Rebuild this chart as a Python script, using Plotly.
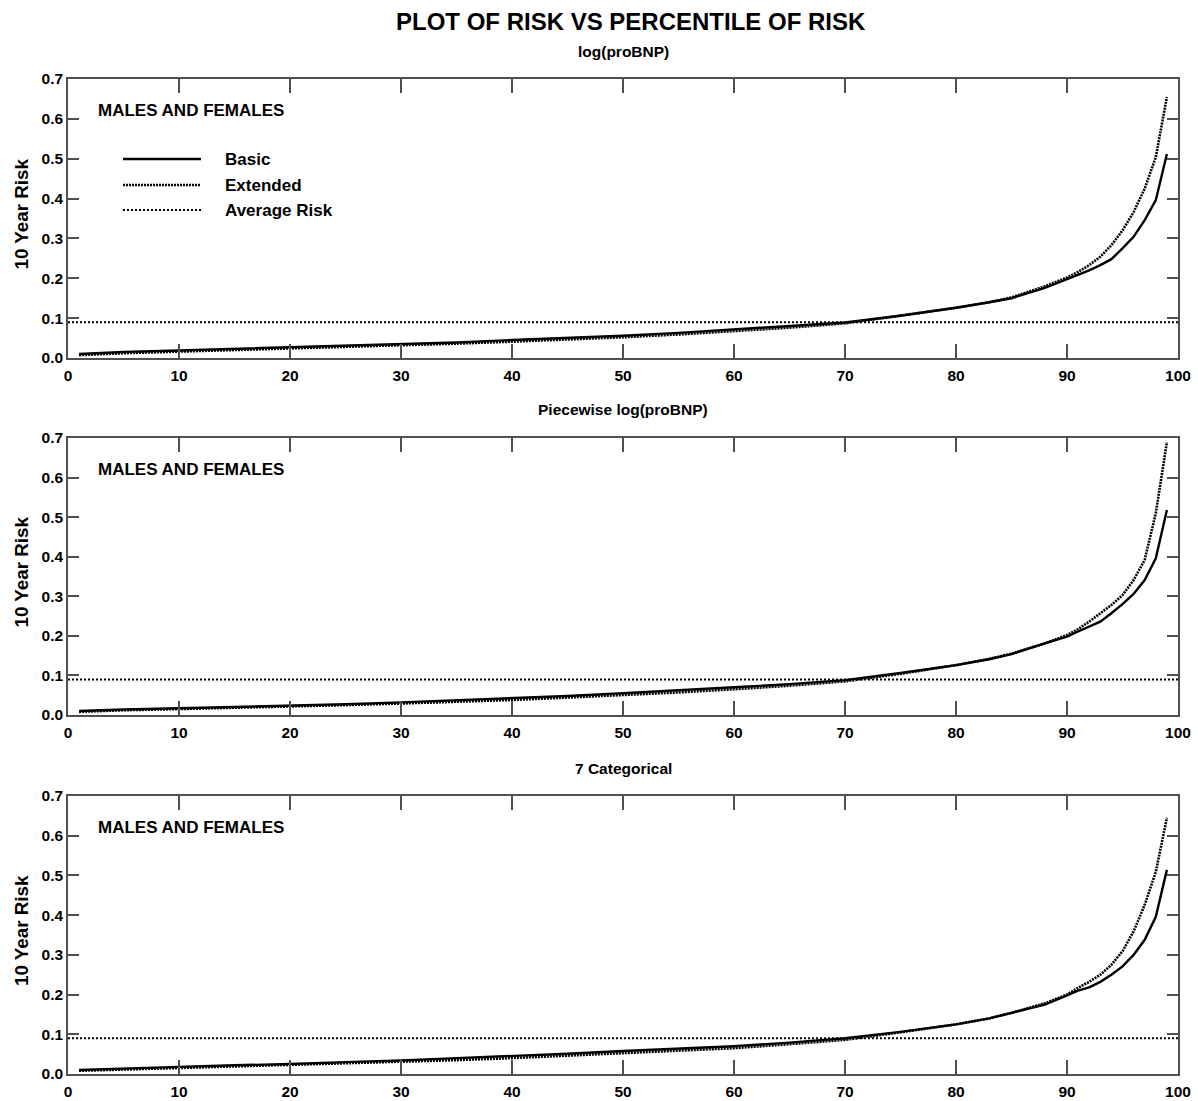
import plotly.graph_objects as go

# ---------------- data ----------------
percentile = [1, 5, 10, 15, 20, 25, 30, 35, 40, 45, 50, 55, 60, 65, 70, 75,
              80, 83, 85, 88, 90, 91, 92, 93, 94, 95, 96, 97, 98, 99]

panel_titles = ["log(proBNP)", "Piecewise log(proBNP)", "7 Categorical"]
subgroup_label = "MALES AND FEMALES"
series_names = ["Basic", "Extended", "Average Risk"]

basic_1 = [0.010, 0.015, 0.019, 0.023, 0.026, 0.030, 0.034, 0.039, 0.045, 0.050,
           0.056, 0.063, 0.072, 0.080, 0.089, 0.106, 0.126, 0.140, 0.150, 0.176,
           0.198, 0.208, 0.220, 0.233, 0.248, 0.275, 0.304, 0.346, 0.396, 0.512]
extended_1 = [0.007, 0.012, 0.016, 0.020, 0.023, 0.027, 0.031, 0.036, 0.041, 0.046,
              0.052, 0.059, 0.067, 0.076, 0.087, 0.106, 0.126, 0.140, 0.152, 0.180,
              0.202, 0.216, 0.233, 0.254, 0.283, 0.320, 0.366, 0.425, 0.504, 0.655]

basic_2 = [0.010, 0.014, 0.017, 0.020, 0.023, 0.027, 0.032, 0.037, 0.042, 0.048,
           0.055, 0.062, 0.070, 0.078, 0.088, 0.106, 0.126, 0.141, 0.154, 0.181,
           0.198, 0.211, 0.223, 0.236, 0.257, 0.280, 0.306, 0.341, 0.396, 0.518]
extended_2 = [0.008, 0.012, 0.015, 0.018, 0.021, 0.025, 0.029, 0.033, 0.038, 0.044,
              0.050, 0.057, 0.065, 0.074, 0.085, 0.104, 0.126, 0.142, 0.155, 0.181,
              0.202, 0.217, 0.236, 0.257, 0.278, 0.303, 0.341, 0.392, 0.510, 0.690]

basic_3 = [0.010, 0.014, 0.018, 0.022, 0.025, 0.030, 0.034, 0.040, 0.045, 0.051,
           0.058, 0.064, 0.070, 0.079, 0.090, 0.106, 0.125, 0.140, 0.154, 0.175,
           0.198, 0.210, 0.218, 0.232, 0.250, 0.271, 0.300, 0.338, 0.396, 0.514]
extended_3 = [0.008, 0.011, 0.015, 0.019, 0.022, 0.026, 0.030, 0.035, 0.040, 0.046,
              0.052, 0.058, 0.065, 0.075, 0.086, 0.105, 0.125, 0.140, 0.154, 0.178,
              0.200, 0.217, 0.232, 0.250, 0.275, 0.309, 0.359, 0.426, 0.509, 0.645]

average_risk = [0.090, 0.090, 0.090]
x_range = [0, 100]
x_ticks = [0, 10, 20, 30, 40, 50, 60, 70, 80, 90, 100]
y_ticks = [0.0, 0.1, 0.2, 0.3, 0.4, 0.5, 0.6, 0.7]

basics = [basic_1, basic_2, basic_3]
extendeds = [extended_1, extended_2, extended_3]

# ---------------- layout geometry ----------------
W, H = 1198, 1101
left_px, right_px = 68, 1178
panels_px = [(79, 358), (438, 715), (796, 1074)]

FONT = "Liberation Sans, Arial, sans-serif"
AXCOL = "#505050"

def py(p):
    return 1 - p / H

fig = go.Figure()
layout = dict(
    width=W, height=H,
    margin=dict(l=0, r=0, t=0, b=0, autoexpand=False),
    paper_bgcolor="white", plot_bgcolor="white",
    showlegend=False,
)
annotations = []
shapes = []

xdom = [left_px / W, right_px / W]

for i in range(3):
    n = "" if i == 0 else str(i + 1)
    xa, ya = "x" + n, "y" + n
    top, bot = panels_px[i]
    layout["xaxis" + n] = dict(
        domain=xdom, anchor=ya, range=x_range, tickvals=x_ticks,
        ticks="inside", ticklen=14, tickwidth=1.5, tickcolor=AXCOL,
        showline=True, linecolor=AXCOL, linewidth=1.5, mirror="ticks",
        showgrid=False, zeroline=False, automargin=False,
        tickfont=dict(family=FONT, size=15.5, color="black", weight="bold"),
        ticklabelstandoff=3,
    )
    layout["yaxis" + n] = dict(
        domain=[py(bot), py(top)], anchor=xa, range=[0, 0.7], tickvals=y_ticks,
        tickformat=".1f",
        ticks="inside", ticklen=11, tickwidth=1.5, tickcolor=AXCOL,
        showline=True, linecolor=AXCOL, linewidth=1.5, mirror="ticks",
        showgrid=False, zeroline=False, automargin=False,
        tickfont=dict(family=FONT, size=15.5, color="black", weight="bold"),
    )

    fig.add_trace(go.Scatter(
        x=x_range, y=[average_risk[i], average_risk[i]], mode="lines",
        line=dict(color="black", width=2, dash="2px,2px"),
        xaxis=xa, yaxis=ya, name=series_names[2], hoverinfo="skip"))
    fig.add_trace(go.Scatter(
        x=percentile, y=extendeds[i], mode="lines",
        line=dict(color="black", width=2.6, dash="2px,1px"),
        xaxis=xa, yaxis=ya, name=series_names[1]))
    fig.add_trace(go.Scatter(
        x=percentile, y=basics[i], mode="lines",
        line=dict(color="black", width=2.4),
        xaxis=xa, yaxis=ya, name=series_names[0]))

    # panel title
    annotations.append(dict(
        text=panel_titles[i], xref="paper", yref="paper",
        x=(left_px + right_px) / 2 / W, y=py(top - 28),
        xanchor="center", yanchor="middle", showarrow=False,
        font=dict(family=FONT, size=15.5, color="black", weight="bold")))
    # subgroup label
    annotations.append(dict(
        text=subgroup_label, xref=xa + " domain", yref=ya + " domain",
        x=(96 - left_px) / (right_px - left_px), y=(bot - (top + 31)) / (bot - top),
        xanchor="left", yanchor="middle", showarrow=False,
        font=dict(family=FONT, size=17, color="black", weight="bold")))
    # y-axis title
    annotations.append(dict(
        text="10 Year Risk", xref="paper", yref="paper",
        x=21 / W, y=py((top + bot) / 2 - 4), textangle=-90,
        xanchor="center", yanchor="middle", showarrow=False,
        font=dict(family=FONT, size=18.8, color="black", weight="bold")))

# legend (first panel only), drawn as decoration
leg_rows_px = [159, 185, 210]
leg_dash = ["solid", "2px,1px", "2px,2px"]
leg_w = [2.4, 2.6, 2]
top, bot = panels_px[0]
pw = right_px - left_px
ph = bot - top
for k in range(3):
    yy = (bot - leg_rows_px[k]) / ph
    shapes.append(dict(
        type="line", xref="x domain", yref="y domain",
        x0=(123 - left_px) / pw, x1=(201 - left_px) / pw, y0=yy, y1=yy,
        line=dict(color="black", width=leg_w[k], dash=leg_dash[k])))
    annotations.append(dict(
        text=series_names[k], xref="x domain", yref="y domain",
        x=(223 - left_px) / pw, y=yy, xanchor="left", yanchor="middle",
        showarrow=False,
        font=dict(family=FONT, size=17, color="black", weight="bold")))

# main title
annotations.append(dict(
    text="PLOT OF RISK VS PERCENTILE OF RISK", xref="paper", yref="paper",
    x=631 / W, y=py(22), xanchor="center", yanchor="middle", showarrow=False,
    font=dict(family=FONT, size=24, color="black", weight="bold")))

layout["annotations"] = annotations
layout["shapes"] = shapes
fig.update_layout(**layout)
fig.write_html("out.html")
